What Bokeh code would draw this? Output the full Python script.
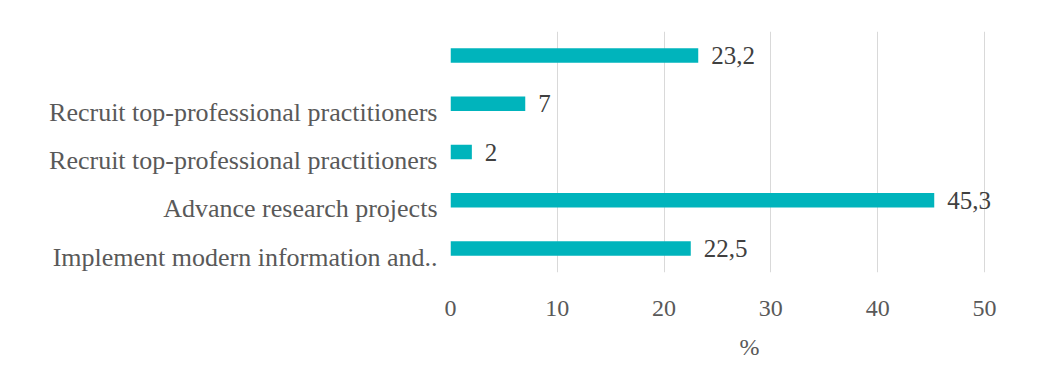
from bokeh.plotting import figure
from bokeh.models import FixedTicker, ColumnDataSource, Range1d
from bokeh.core.properties import value
from bokeh.embed import file_html
from bokeh.resources import INLINE

# Data (top to bottom, as shown in the chart)
categories = ["",
              "Recruit top-professional practitioners",
              "Recruit top-professional practitioners",
              "Advance research projects",
              "Implement modern information and.."]
values = [23.2, 7, 2, 45.3, 22.5]
x_ticks = [0, 10, 20, 30, 40, 50]
x_title = "%"

n = len(categories)
ys = [n - 1 - i for i in range(n)]
labels = [("%g" % v).replace(".", ",") for v in values]

src = ColumnDataSource(dict(y=ys, v=values, lbl=labels))

FONT = "Liberation Serif"
p = figure(width=1050, height=367,
           x_range=Range1d(0, 56), y_range=Range1d(-0.5, n - 0.5),
           output_backend="svg", toolbar_location=None,
           min_border_left=450, min_border_right=2,
           min_border_top=31, min_border_bottom=95)
p.outline_line_color = None
p.background_fill_color = "white"

p.hbar(y="y", right="v", left=0, height=0.3, source=src,
       fill_color="#00B4BC", line_color=None)

p.text(x="v", y="y", text="lbl", source=src, x_offset=13,
       text_baseline="middle", text_align="left",
       text_font=value(FONT), text_font_size="25px", text_color="#404040")

# x axis
p.xaxis.ticker = FixedTicker(ticks=x_ticks)
p.xaxis.axis_line_color = None
p.xaxis.major_tick_line_color = None
p.xaxis.minor_tick_line_color = None
p.xaxis.major_label_standoff = 22
p.xaxis.major_label_text_font = FONT
p.xaxis.major_label_text_font_size = "24px"
p.xaxis.major_label_text_color = "#595959"
p.xaxis.axis_label = x_title
p.xaxis.axis_label_text_font = FONT
p.xaxis.axis_label_text_font_size = "24px"
p.xaxis.axis_label_text_font_style = "normal"
p.xaxis.axis_label_text_color = "#595959"
p.xaxis.axis_label_standoff = 15

# y axis (labels sit slightly below bar centers, as in the original)
yt = [round(y - 0.18, 2) for y in ys]
p.yaxis.ticker = FixedTicker(ticks=yt)
p.yaxis.major_label_overrides = {t: c for t, c in zip(yt, categories)}
p.yaxis.axis_line_color = None
p.yaxis.major_tick_line_color = None
p.yaxis.minor_tick_line_color = None
p.yaxis.major_label_standoff = 7
p.yaxis.major_label_text_font = FONT
p.yaxis.major_label_text_font_size = "26px"
p.yaxis.major_label_text_color = "#595959"

p.ygrid.visible = False
p.xgrid.grid_line_color = "#D9D9D9"
p.xgrid.grid_line_width = 1

open("out.html", "w").write(file_html(p, INLINE))
